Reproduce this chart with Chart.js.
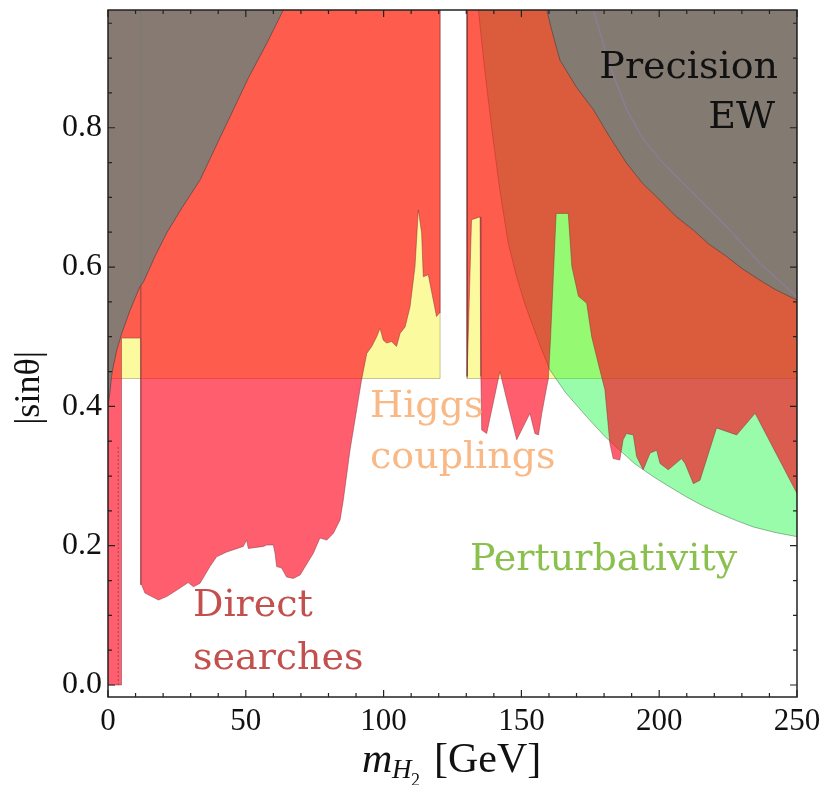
<!DOCTYPE html>
<html>
<head>
<meta charset="utf-8">
<script src="https://cdn.jsdelivr.net/npm/chart.js@4.4.1/dist/chart.umd.min.js"></script>
<style>
  body { margin: 0; background: #fff; }
  #wrap { width: 825px; height: 785px; }
</style>
</head>
<body>
<div id="wrap"><canvas id="limits-chart"></canvas></div>
<script>
// axis ticks
const xTicks = [0, 50, 100, 150, 200, 250];
const yTicks = [0, 0.2, 0.4, 0.6, 0.8];
const yTickLabels = ['0.0', '0.2', '0.4', '0.6', '0.8'];

// Higgs couplings: excluded above this value, except around 125 GeV
const higgsLimit = 0.44;
const higgsGap = [120.5, 130.3];

// direct searches: lower edge of excluded region [m, |sin|]
const directLeft = [
    [0, 0.0], [4.9, 0.0], [4.9, 0.498], [11.9, 0.498], [11.9, 0.144],
    [12.2, 0.144], [13.4, 0.132], [18.3, 0.122], [21.3, 0.127], [24.9, 0.136],
    [29.1, 0.147], [31.0, 0.141], [33.4, 0.146], [37.0, 0.170], [39.4, 0.184],
    [43.1, 0.191], [49.1, 0.199], [50.3, 0.208], [50.9, 0.196], [56.4, 0.199],
    [57.6, 0.201], [60.0, 0.201], [60.6, 0.189], [61.2, 0.170], [63.0, 0.168],
    [64.8, 0.155], [67.2, 0.153], [69.7, 0.158], [74.5, 0.189], [76.9, 0.211],
    [79.4, 0.208], [81.8, 0.218], [84.2, 0.237], [85.4, 0.266], [87.8, 0.337],
    [90.8, 0.409], [92.0, 0.438], [93.9, 0.476], [95.7, 0.486], [97.5, 0.500],
    [98.7, 0.512], [99.9, 0.495], [101.1, 0.491], [102.9, 0.493], [104.7, 0.486],
    [106.0, 0.505], [107.8, 0.514], [109.6, 0.543], [111.4, 0.601], [112.6, 0.682],
    [113.8, 0.649], [114.4, 0.586], [116.2, 0.589], [118.0, 0.553], [119.2, 0.529],
    [120.2, 0.534], [120.5, 0.534]
];
const directRight = [
    [130.3, 0.443], [131.9, 0.668], [135.0, 0.672], [135.3, 0.443], [135.6, 0.366],
    [137.4, 0.361], [142.2, 0.450], [144.7, 0.409], [148.3, 0.352], [150.7, 0.371],
    [153.1, 0.390], [154.9, 0.361], [156.2, 0.359], [157.4, 0.390], [159.2, 0.428],
    [159.8, 0.440], [160.6, 0.500], [162.6, 0.677], [167.0, 0.677], [168.3, 0.601],
    [170.7, 0.558], [173.7, 0.548], [175.5, 0.500], [178.5, 0.452], [180.3, 0.424],
    [182.1, 0.347], [183.3, 0.325], [185.7, 0.323], [186.9, 0.352], [188.1, 0.361],
    [190.6, 0.359], [191.8, 0.328], [194.2, 0.309], [196.7, 0.333], [199.1, 0.337],
    [200.3, 0.318], [203.3, 0.309], [208.1, 0.325], [209.4, 0.318], [212.4, 0.289],
    [214.8, 0.294], [220.8, 0.369], [228.1, 0.359], [234.8, 0.390], [250, 0.275]
];
const directEdgeLine = [[11.9, 0.498], [11.9, 0.97]];
const directDotted = [[3.7, 0.0], [3.7, 0.342]];

// perturbativity: excluded above this curve
const pertEdge = [
    [134.4, 0.969], [136.5, 0.89], [139.2, 0.80], [142.2, 0.71], [145.2, 0.635],
    [148.0, 0.59], [151.0, 0.55], [154.3, 0.514], [157.0, 0.485], [160.4, 0.452],
    [166.0, 0.42], [173.7, 0.385], [180.0, 0.358], [185.7, 0.337], [191.0, 0.318],
    [197.9, 0.299], [204.0, 0.284], [209.9, 0.270], [216.0, 0.257], [222.0, 0.246],
    [228.0, 0.236], [234.1, 0.227], [242.0, 0.219], [250, 0.213]
];

// precision electroweak: excluded above these curves
const ewLeft = [
    [0, 0.40], [0.7, 0.42], [1.3, 0.443], [1.9, 0.457], [3.2, 0.481],
    [5.0, 0.505], [8.0, 0.538], [11.6, 0.572], [12.8, 0.578], [17.0, 0.615],
    [21.3, 0.649], [27.0, 0.686], [33.4, 0.725], [39.0, 0.772], [45.5, 0.826],
    [51.0, 0.872], [57.6, 0.921], [63.6, 0.969]
];
const ewRight = [
    [159.2, 0.969], [161.0, 0.94], [164.0, 0.897], [170.0, 0.858], [176.1, 0.826],
    [182.0, 0.787], [188.2, 0.749], [194.0, 0.72], [200.3, 0.696], [206.0, 0.673],
    [212.4, 0.653], [218.0, 0.633], [224.5, 0.615], [230.0, 0.598], [236.6, 0.581],
    [242.0, 0.568], [248.7, 0.555], [250, 0.553]
];
const ewInner = [
    [176.1, 0.969], [182.0, 0.89], [188.2, 0.826], [194.0, 0.785], [200.3, 0.754],
    [212.4, 0.706], [224.5, 0.658], [236.6, 0.605], [248.7, 0.562], [250, 0.556]
];

const CEIL = 1.3;
const pts = arr => arr.map(([x, y]) => ({ x, y }));

function above(edge) {
    const first = edge[0][0];
    const last = edge[edge.length - 1][0];
    return [...pts(edge), { x: last, y: CEIL }, { x: first, y: CEIL }];
}

const higgsShape = pts([
    [0, higgsLimit], [higgsGap[0], higgsLimit], [higgsGap[0], CEIL], [higgsGap[1], CEIL],
    [higgsGap[1], higgsLimit], [250, higgsLimit], [250, CEIL], [0, CEIL]
]);
const directShape = [
    ...pts(directLeft),
    { x: higgsGap[0], y: CEIL }, { x: higgsGap[1], y: CEIL },
    ...pts(directRight),
    { x: 250, y: CEIL }, { x: 0, y: CEIL }
];

function region(data, fillColor, lineColor, order) {
    return {
        data, order, showLine: true, fill: 'shape', tension: 0,
        backgroundColor: fillColor, borderColor: lineColor, borderWidth: 1,
        pointRadius: 0
    };
}

const serif = '"Liberation Serif", "Times New Roman", serif';
const typewriter = '"DejaVu Serif", serif';

const framePlugin = {
    id: 'frame',
    afterDatasetsDraw(chart) {
        const ctx = chart.ctx;
        const a = chart.chartArea;
        const xs = chart.scales.x, ys = chart.scales.y;
        ctx.save();
        // region labels
        ctx.textBaseline = 'alphabetic';
        ctx.font = '38px ' + typewriter;
        ctx.fillStyle = '#111';
        ctx.textAlign = 'right';
        ctx.fillText('Precision', 778, 78);
        ctx.fillText('EW', 775, 128);
        ctx.textAlign = 'left';
        ctx.fillStyle = '#f8b987';
        ctx.fillText('Higgs', 370, 417);
        ctx.fillText('couplings', 370, 468);
        ctx.fillStyle = '#c2504f';
        ctx.fillText('Direct', 193, 616);
        ctx.fillText('searches', 193, 669);
        ctx.fillStyle = '#8cc04e';
        ctx.fillText('Perturbativity', 470, 570);

        // frame with inward ticks
        ctx.strokeStyle = '#222';
        ctx.lineWidth = 1.5;
        ctx.strokeRect(a.left, a.top, a.right - a.left, a.bottom - a.top);
        ctx.lineWidth = 1.2;
        ctx.beginPath();
        for (let v = 0; v <= 250; v += 10) {
            const px = xs.getPixelForValue(v);
            const len = v % 50 === 0 ? 7 : 4;
            ctx.moveTo(px, a.bottom); ctx.lineTo(px, a.bottom - len);
            ctx.moveTo(px, a.top); ctx.lineTo(px, a.top + len);
        }
        for (let i = 0; i <= 19; i++) {
            const v = i * 0.05;
            const py = ys.getPixelForValue(v);
            const len = i % 4 === 0 ? 7 : 4;
            ctx.moveTo(a.left, py); ctx.lineTo(a.left + len, py);
            ctx.moveTo(a.right, py); ctx.lineTo(a.right - len, py);
        }
        ctx.stroke();

        // axis titles
        ctx.fillStyle = '#111';
        ctx.textAlign = 'left';
        ctx.font = 'italic 42px ' + serif;
        ctx.fillText('m', 362, 772);
        ctx.font = 'italic 27px ' + serif;
        ctx.fillText('H', 392, 778);
        ctx.font = '18px ' + serif;
        ctx.fillText('2', 411, 786);
        ctx.font = '42px ' + serif;
        ctx.fillText('[GeV]', 434, 772);

        ctx.translate(30, 388);
        ctx.rotate(-Math.PI / 2);
        ctx.textAlign = 'center';
        ctx.textBaseline = 'middle';
        ctx.font = '36px ' + serif;
        ctx.fillText('|sinθ|', 0, 0);
        ctx.restore();
    }
};

new Chart(document.getElementById('limits-chart'), {
    type: 'scatter',
    data: {
        datasets: [
            { data: pts(ewInner), order: 1, showLine: true, fill: false, borderColor: 'rgba(150,125,175,0.55)', borderWidth: 1.5, pointRadius: 0 },
            region(above(ewLeft), 'rgba(121,125,120,0.9)', 'rgba(70,62,60,0.6)', 2),
            region(above(ewRight), 'rgba(121,125,120,0.9)', 'rgba(70,62,60,0.6)', 3),
            { data: pts(directEdgeLine), order: 4, showLine: true, fill: false, borderColor: 'rgba(110,55,60,0.6)', borderWidth: 1.2, pointRadius: 0 },
            { data: pts(directDotted), order: 5, showLine: true, fill: false, borderColor: 'rgba(120,60,75,0.7)', borderDash: [2, 2], borderWidth: 1, pointRadius: 0 },
            region(directShape, 'rgba(255,8,32,0.65)', 'rgba(120,45,55,0.45)', 6),
            region(above(pertEdge), 'rgba(10,248,52,0.42)', 'rgba(60,95,60,0.45)', 7),
            region(higgsShape, '#fcfa9f', 'rgba(120,115,60,0.4)', 8)
        ]
    },
    options: {
        responsive: true,
        maintainAspectRatio: false,
        animation: false,
        layout: { padding: { top: 10, right: 28, left: 0, bottom: 0 } },
        plugins: { legend: { display: false }, tooltip: { enabled: false } },
        scales: {
            x: {
                type: 'linear', min: 0, max: 250,
                grid: { display: false, drawTicks: false },
                border: { display: false },
                afterBuildTicks: scale => { scale.ticks = xTicks.map(v => ({ value: v })); },
                afterFit: scale => {
                    scale.height = 88;
                    scale.paddingLeft = 0;
                    scale.paddingRight = 0;
                },
                ticks: { padding: 6, color: '#111', font: { family: serif, size: 31 }, maxRotation: 0 }
            },
            y: {
                type: 'linear', min: -0.0172, max: 0.969,
                grid: { display: false, drawTicks: false },
                border: { display: false },
                afterBuildTicks: scale => { scale.ticks = yTicks.map(v => ({ value: v })); },
                afterFit: scale => {
                    scale.width = 108;
                    scale.paddingTop = 0;
                    scale.paddingBottom = 0;
                },
                ticks: {
                    padding: 6, color: '#111', font: { family: serif, size: 32 },
                    callback: (v, i) => yTickLabels[i]
                }
            }
        }
    },
    plugins: [framePlugin]
});
</script>
</body>
</html>
